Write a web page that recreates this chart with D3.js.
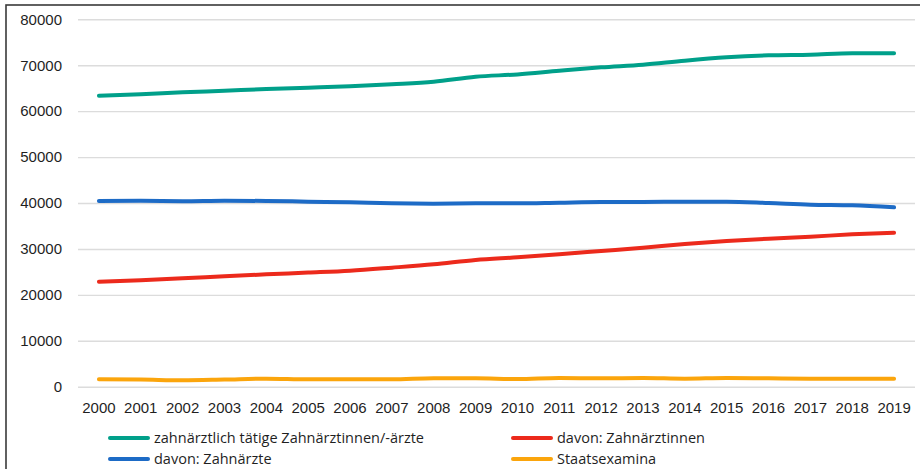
<!DOCTYPE html>
<html>
<head>
<meta charset="utf-8">
<script src="https://cdn.jsdelivr.net/npm/d3@7"></script>
<style>
  html, body { margin: 0; padding: 0; background: #fff; }
  svg { display: block; font-family: "Open Sans", "Liberation Sans", sans-serif; font-weight: 500; }
</style>
</head>
<body>
<svg id="chart" width="920" height="469"></svg>
<script>
// Jahre
const years = ["2000","2001","2002","2003","2004","2005","2006","2007","2008","2009",
               "2010","2011","2012","2013","2014","2015","2016","2017","2018","2019"];

// zahnärztlich tätige Zahnärztinnen/-ärzte
const gesamt = [63360, 63700, 64100, 64450, 64820, 65100, 65400, 65850, 66400, 67500,
                68000, 68800, 69540, 70120, 71000, 71720, 72150, 72300, 72600, 72600];
// davon: Zahnärzte
const zahnaerzte = [40430, 40480, 40400, 40500, 40450, 40290, 40150, 39930, 39860, 39930,
                    39930, 40080, 40220, 40220, 40290, 40290, 40000, 39640, 39500, 39060];
// davon: Zahnärztinnen
const zahnaerztinnen = [22860, 23200, 23600, 24050, 24470, 24850, 25260, 25920, 26650, 27590,
                        28170, 28830, 29550, 30270, 31070, 31720, 32230, 32660, 33180, 33530];
// Staatsexamina
const staatsexamina = [1600, 1550, 1390, 1550, 1740, 1600, 1600, 1600, 1820, 1820,
                       1670, 1890, 1820, 1890, 1750, 1900, 1820, 1750, 1750, 1750];

const yTicks = [0, 10000, 20000, 30000, 40000, 50000, 60000, 70000, 80000];

const series = [
  { name: "zahnärztlich tätige Zahnärztinnen/-ärzte", values: gesamt, color: "#00a08a" },
  { name: "davon: Zahnärztinnen", values: zahnaerztinnen, color: "#ec2a1c" },
  { name: "davon: Zahnärzte", values: zahnaerzte, color: "#1d6bc6" },
  { name: "Staatsexamina", values: staatsexamina, color: "#fba50c" }
];

const svg = d3.select("#chart");
const plot = { left: 78, right: 915, top: 19.3, bottom: 386.7 };

// outer frame (open to the right and bottom)
svg.append("rect")
  .attr("x", 6).attr("y", 5)
  .attr("width", 940).attr("height", 500)
  .attr("fill", "none")
  .attr("stroke", "#3a3a3a")
  .attr("stroke-width", 1.6);

const x = d3.scaleBand().domain(years).range([plot.left, plot.right]);
const y = d3.scaleLinear().domain([0, 80000]).range([plot.bottom, plot.top]);
const cx = d => x(d) + x.bandwidth() / 2;

// horizontal grid + y labels
const yAxis = d3.axisLeft(y)
  .tickValues(yTicks)
  .tickSize(-(plot.right - plot.left))
  .tickPadding(14)
  .tickFormat(d3.format("d"));

const gy = svg.append("g")
  .attr("transform", `translate(${plot.left},0)`)
  .call(yAxis);
gy.select(".domain").remove();
gy.selectAll(".tick line").attr("stroke", "#dcdcdc").attr("stroke-width", 1.4);
gy.selectAll(".tick text")
  .attr("fill", "#1f1f1f")
  .style("font-size", "15px")
  .attr("x", -16);

// x labels
const xAxis = d3.axisBottom(x).tickSize(0).tickPadding(16);
const gx = svg.append("g")
  .attr("transform", `translate(0,${plot.bottom})`)
  .call(xAxis);
gx.select(".domain").remove();
gx.selectAll(".tick text")
  .attr("fill", "#1f1f1f")
  .style("font-size", "15px");

// lines
const line = d3.line()
  .x((d, i) => cx(years[i]))
  .y(d => y(d))
  .curve(d3.curveMonotoneX);

svg.append("g").selectAll("path")
  .data(series)
  .join("path")
  .attr("d", s => line(s.values))
  .attr("fill", "none")
  .attr("stroke", s => s.color)
  .attr("stroke-width", 4)
  .attr("stroke-linecap", "round")
  .attr("stroke-linejoin", "round");

// legend: two columns, two rows
const legendPos = [
  { x: 110, y: 438 },
  { x: 513, y: 438 },
  { x: 110, y: 459 },
  { x: 513, y: 459 }
];
const lg = svg.append("g").selectAll("g")
  .data(series)
  .join("g")
  .attr("transform", (s, i) => `translate(${legendPos[i].x},${legendPos[i].y})`);
lg.append("line")
  .attr("x1", 0).attr("x2", 38)
  .attr("y1", 0).attr("y2", 0)
  .attr("stroke", s => s.color)
  .attr("stroke-width", 4)
  .attr("stroke-linecap", "round");
lg.append("text")
  .attr("x", 44).attr("y", 0)
  .attr("dy", "0.35em")
  .attr("fill", "#1f1f1f")
  .style("font-size", "14.5px")
  .text(s => s.name);
</script>
</body>
</html>
